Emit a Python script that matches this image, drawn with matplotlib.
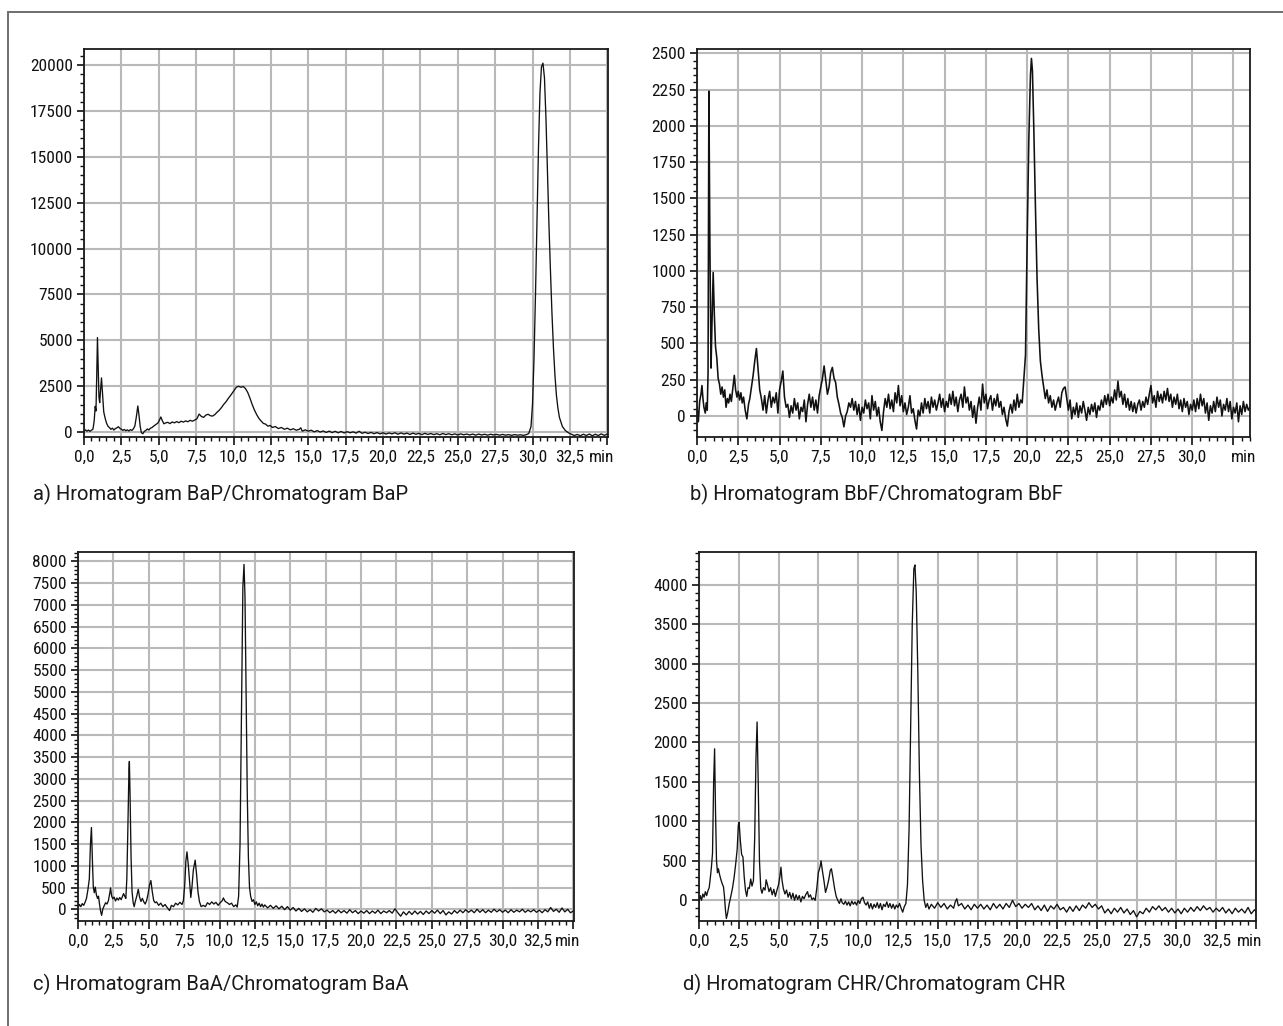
import numpy as np
import matplotlib.pyplot as plt
from matplotlib import font_manager as fm
from matplotlib.patches import Rectangle
from matplotlib.ticker import MultipleLocator, FuncFormatter

# (time in min, signal)
bap = [
    (0.0, 60), (0.1, 120), (0.2, 50), (0.3, 110), (0.4, 40), (0.5, 100), (0.6, 160), (0.68, 600),
    (0.75, 1400), (0.8, 1150), (0.85, 3000), (0.9, 5150), (0.95, 3600), (1.0, 1900), (1.05, 1600),
    (1.1, 2200), (1.17, 2950), (1.25, 2000), (1.32, 1100), (1.4, 800), (1.5, 500), (1.6, 320),
    (1.7, 240), (1.8, 150), (1.9, 210), (2.0, 110), (2.1, 190), (2.2, 230), (2.3, 290), (2.4, 200),
    (2.5, 160), (2.6, 90), (2.7, 140), (2.8, 70), (2.9, 120), (3.0, 60), (3.1, 130), (3.2, 90),
    (3.3, 170), (3.4, 320), (3.5, 820), (3.6, 1420), (3.68, 900), (3.76, 300), (3.84, -40),
    (3.94, -90), (4.04, 40), (4.14, 90), (4.24, 170), (4.34, 110), (4.44, 210), (4.54, 240),
    (4.64, 310), (4.74, 370), (4.84, 430), (4.94, 490), (5.04, 640), (5.14, 820), (5.24, 620),
    (5.34, 450), (5.44, 490), (5.6, 530), (5.75, 460), (5.9, 550), (6.05, 500), (6.2, 570),
    (6.35, 510), (6.5, 590), (6.65, 540), (6.8, 610), (6.95, 560), (7.1, 640), (7.25, 590),
    (7.4, 650), (7.55, 720), (7.7, 980), (7.85, 850), (8.0, 800), (8.15, 920), (8.3, 970),
    (8.45, 890), (8.6, 870), (8.75, 950), (8.9, 1080), (9.05, 1190), (9.2, 1340), (9.35, 1510),
    (9.5, 1650), (9.65, 1830), (9.8, 1990), (9.95, 2160), (10.1, 2340), (10.2, 2450), (10.35, 2490),
    (10.5, 2440), (10.65, 2480), (10.8, 2370), (10.95, 2160), (11.1, 1850), (11.25, 1500),
    (11.4, 1200), (11.55, 950), (11.7, 740), (11.85, 600), (12.0, 470), (12.15, 430), (12.3, 320),
    (12.45, 360), (12.6, 250), (12.8, 300), (13.0, 190), (13.2, 250), (13.4, 150), (13.6, 210),
    (13.8, 120), (14.0, 180), (14.2, 100), (14.4, 150), (14.5, 230), (14.6, 50), (14.8, 120),
    (15.0, 50), (15.2, 100), (15.4, 10), (15.6, 80), (15.8, 0), (16.0, 60), (16.2, -20), (16.4, 50),
    (16.6, -30), (16.8, 40), (17.0, -40), (17.2, 30), (17.4, -50), (17.6, 20), (17.8, -40),
    (18.0, 10), (18.2, -60), (18.4, 40), (18.6, -70), (18.8, -10), (19.0, -80), (19.2, -20),
    (19.4, -90), (19.6, -30), (19.8, -100), (20.0, -40), (20.2, -110), (20.4, -50), (20.6, -100),
    (20.8, -40), (21.0, -120), (21.2, -50), (21.4, -110), (21.6, -60), (21.8, -130), (22.0, -60),
    (22.2, -120), (22.4, -70), (22.6, -140), (22.8, -70), (23.0, -130), (23.2, -80), (23.4, -140),
    (23.6, -90), (23.8, -150), (24.0, -80), (24.2, -140), (24.4, -90), (24.6, -150), (24.8, -100),
    (25.0, -160), (25.2, -100), (25.4, -150), (25.6, -110), (25.8, -160), (26.0, -110),
    (26.2, -170), (26.4, -110), (26.6, -160), (26.8, -120), (27.0, -170), (27.2, -120),
    (27.4, -160), (27.6, -130), (27.8, -170), (28.0, -130), (28.2, -170), (28.4, -140),
    (28.6, -180), (28.8, -140), (29.0, -170), (29.2, -150), (29.4, -180), (29.6, -140),
    (29.75, -80), (29.9, 300), (30.0, 1500), (30.1, 4000), (30.2, 7500), (30.3, 11500),
    (30.4, 15500), (30.5, 18500), (30.6, 19900), (30.7, 20100), (30.8, 19300), (30.9, 17100),
    (31.0, 14100), (31.1, 11300), (31.2, 8800), (31.3, 6500), (31.4, 4600), (31.5, 3100),
    (31.6, 2000), (31.7, 1300), (31.8, 800), (32.0, 300), (32.2, 80), (32.4, -40), (32.6, -120),
    (32.8, -190), (33.0, -130), (33.2, -200), (33.4, -120), (33.6, -190), (33.8, -110),
    (34.0, -200), (34.2, -120), (34.4, -190), (34.6, -100), (34.8, -180), (35.0, -110),
]

bbf = [
    (0.0, 60), (0.08, -40), (0.16, 100), (0.24, 150), (0.3, 210), (0.36, 120), (0.42, 60),
    (0.5, 20), (0.56, 90), (0.62, 40), (0.67, 300), (0.72, 2240), (0.78, 1200), (0.85, 330),
    (0.9, 600), (0.98, 990), (1.05, 700), (1.12, 480), (1.2, 400), (1.28, 260), (1.36, 220),
    (1.44, 150), (1.52, 200), (1.6, 130), (1.68, 180), (1.76, 60), (1.84, 120), (1.92, 90),
    (2.0, 150), (2.08, 100), (2.18, 200), (2.26, 280), (2.34, 180), (2.42, 130), (2.5, 170),
    (2.58, 110), (2.66, 160), (2.74, 90), (2.82, 130), (2.92, 40), (3.02, -20), (3.12, 80),
    (3.2, 120), (3.3, 200), (3.4, 280), (3.5, 380), (3.6, 465), (3.7, 320), (3.8, 180), (3.9, 120),
    (4.0, 40), (4.1, 140), (4.2, 20), (4.3, 110), (4.4, 170), (4.5, 60), (4.6, 130), (4.7, 90),
    (4.8, 160), (4.9, 20), (5.0, 180), (5.1, 240), (5.2, 310), (5.3, 130), (5.4, 60), (5.5, 80),
    (5.6, -10), (5.7, 70), (5.8, 20), (5.9, 120), (6.0, 40), (6.1, 90), (6.2, -20), (6.3, 60),
    (6.4, 30), (6.5, 110), (6.6, -40), (6.7, 80), (6.8, 150), (6.9, 60), (7.0, 130), (7.1, 40),
    (7.2, 110), (7.3, 20), (7.4, 140), (7.5, 200), (7.6, 260), (7.7, 345), (7.8, 250), (7.9, 150),
    (8.0, 200), (8.1, 300), (8.2, 335), (8.3, 260), (8.4, 230), (8.5, 130), (8.6, 80), (8.7, 20),
    (8.8, -10), (8.9, -75), (9.0, 0), (9.1, 30), (9.2, 90), (9.3, 60), (9.4, 120), (9.5, 40),
    (9.6, 100), (9.7, 10), (9.8, 80), (9.9, -30), (10.0, 60), (10.1, 20), (10.2, 110), (10.3, 50),
    (10.4, 90), (10.5, -20), (10.6, 140), (10.7, 40), (10.8, 100), (10.9, 0), (11.0, 60),
    (11.1, -40), (11.2, -100), (11.3, 30), (11.4, 120), (11.5, 60), (11.6, 150), (11.7, 50),
    (11.8, 110), (11.9, 30), (12.0, 160), (12.1, 90), (12.2, 210), (12.3, 70), (12.4, 140),
    (12.5, 30), (12.6, 90), (12.7, 10), (12.8, 60), (12.9, 140), (13.0, 20), (13.1, 50),
    (13.2, -30), (13.3, -90), (13.4, 40), (13.5, 0), (13.6, 90), (13.7, 20), (13.8, 120),
    (13.9, 50), (14.0, 100), (14.1, 20), (14.2, 130), (14.3, 60), (14.4, 110), (14.5, 40),
    (14.6, 90), (14.7, 150), (14.8, 60), (14.9, 120), (15.0, 30), (15.1, 100), (15.2, 60),
    (15.3, 150), (15.4, 80), (15.5, 170), (15.6, 70), (15.7, 130), (15.8, 30), (15.9, 110),
    (16.0, 150), (16.1, 60), (16.2, 200), (16.3, 90), (16.4, 130), (16.5, 40), (16.6, 100),
    (16.7, -10), (16.8, 70), (16.9, -50), (17.0, 60), (17.1, 130), (17.2, 40), (17.3, 220),
    (17.4, 90), (17.5, 150), (17.6, 50), (17.7, 110), (17.8, 140), (17.9, 40), (18.0, 120),
    (18.1, 70), (18.2, 150), (18.3, 60), (18.4, 100), (18.5, 10), (18.6, 60), (18.7, -20),
    (18.8, -70), (18.9, 30), (19.0, 80), (19.1, 20), (19.2, 110), (19.3, 40), (19.4, 150),
    (19.5, 60), (19.6, 110), (19.7, 90), (19.8, 250), (19.9, 420), (20.0, 1200), (20.1, 1900),
    (20.2, 2350), (20.26, 2465), (20.32, 2380), (20.4, 2000), (20.5, 1450), (20.6, 950),
    (20.7, 600), (20.8, 380), (20.9, 280), (21.0, 200), (21.1, 120), (21.2, 180), (21.3, 90),
    (21.4, 140), (21.5, 60), (21.6, 110), (21.7, 40), (21.8, 90), (21.9, 130), (22.0, 60),
    (22.1, 160), (22.2, 190), (22.3, 200), (22.4, 120), (22.5, 40), (22.6, 110), (22.7, -20),
    (22.8, 60), (22.9, 10), (23.0, 90), (23.1, -10), (23.2, 70), (23.3, 20), (23.4, 100),
    (23.5, 40), (23.6, -30), (23.7, 60), (23.8, 10), (23.9, 80), (24.0, 30), (24.1, 90),
    (24.2, -10), (24.3, 70), (24.4, 40), (24.5, 110), (24.6, 60), (24.7, 140), (24.8, 80),
    (24.9, 150), (25.0, 70), (25.1, 130), (25.2, 90), (25.3, 180), (25.4, 110), (25.5, 240),
    (25.6, 130), (25.7, 170), (25.8, 80), (25.9, 150), (26.0, 60), (26.1, 120), (26.2, 40),
    (26.3, 100), (26.4, 30), (26.5, 90), (26.6, 20), (26.7, 80), (26.8, 110), (26.9, 40),
    (27.0, 100), (27.1, 60), (27.2, 130), (27.3, 80), (27.4, 150), (27.5, 210), (27.6, 90),
    (27.7, 140), (27.8, 60), (27.9, 170), (28.0, 100), (28.1, 150), (28.2, 90), (28.3, 170),
    (28.4, 110), (28.5, 190), (28.6, 100), (28.7, 150), (28.8, 60), (28.9, 130), (29.0, 80),
    (29.1, 150), (29.2, 50), (29.3, 110), (29.4, 30), (29.5, 120), (29.6, 60), (29.7, 100),
    (29.8, 10), (29.9, 80), (30.0, 40), (30.1, 110), (30.2, 30), (30.3, 120), (30.4, 50),
    (30.5, 150), (30.6, 70), (30.7, 120), (30.8, 20), (30.9, 90), (31.0, -30), (31.1, 70),
    (31.2, 20), (31.3, 100), (31.4, 30), (31.5, 130), (31.6, 60), (31.7, 110), (31.8, 0),
    (31.9, 80), (32.0, 40), (32.1, 120), (32.2, 30), (32.3, 100), (32.4, -20), (32.5, 60),
    (32.6, 20), (32.7, 90), (32.8, -40), (32.9, 70), (33.0, 10), (33.1, 100), (33.2, 30),
    (33.3, 80), (33.4, 40), (33.5, 60),
]

baa = [
    (0.0, 40), (0.1, 110), (0.2, 60), (0.3, 130), (0.4, 90), (0.5, 160), (0.6, 250), (0.7, 450),
    (0.8, 700), (0.88, 1500), (0.95, 1880), (1.02, 1100), (1.08, 520), (1.15, 380), (1.22, 510),
    (1.3, 330), (1.38, 250), (1.45, 300), (1.52, 120), (1.6, -50), (1.67, -140), (1.75, 0),
    (1.85, 80), (1.95, 150), (2.05, 120), (2.15, 200), (2.25, 380), (2.3, 490), (2.38, 300),
    (2.46, 240), (2.55, 280), (2.65, 190), (2.75, 260), (2.85, 210), (2.95, 270), (3.05, 220),
    (3.15, 300), (3.22, 360), (3.3, 300), (3.38, 250), (3.45, 700), (3.52, 1800), (3.6, 3200),
    (3.63, 3400), (3.68, 2600), (3.75, 1200), (3.82, 400), (3.9, 150), (3.97, 60), (4.05, 180),
    (4.15, 300), (4.26, 460), (4.35, 280), (4.45, 180), (4.55, 250), (4.65, 170), (4.75, 120),
    (4.85, 200), (4.95, 350), (5.05, 550), (5.15, 660), (5.25, 400), (5.35, 200), (5.45, 150),
    (5.55, 170), (5.7, 90), (5.85, 140), (6.0, 60), (6.15, 110), (6.3, 40), (6.47, -30),
    (6.6, 90), (6.75, 60), (6.9, 140), (7.05, 100), (7.2, 160), (7.35, 110), (7.45, 200),
    (7.55, 600), (7.62, 1100), (7.7, 1320), (7.8, 1000), (7.9, 550), (7.97, 270), (8.05, 500),
    (8.15, 900), (8.28, 1130), (8.38, 800), (8.48, 400), (8.58, 180), (8.7, 60), (8.85, 90),
    (9.0, 60), (9.15, 150), (9.3, 110), (9.45, 170), (9.6, 120), (9.75, 160), (9.9, 90),
    (10.05, 150), (10.2, 200), (10.27, 260), (10.4, 180), (10.55, 150), (10.7, 110), (10.85, 140),
    (11.0, 60), (11.15, 100), (11.25, 50), (11.35, 300), (11.45, 1500), (11.55, 4500),
    (11.65, 7400), (11.73, 7930), (11.8, 7200), (11.88, 5000), (11.96, 2700), (12.04, 1200),
    (12.12, 500), (12.2, 300), (12.3, 180), (12.4, 220), (12.5, 110), (12.6, 170), (12.7, 80),
    (12.8, 140), (12.9, 60), (13.0, 120), (13.1, 50), (13.2, 100), (13.4, 30), (13.6, 90),
    (13.8, 20), (14.0, 80), (14.2, 10), (14.4, 70), (14.6, -10), (14.8, 60), (15.0, -20),
    (15.2, 40), (15.4, -40), (15.6, 20), (15.8, -50), (16.0, 10), (16.2, -60), (16.4, -10),
    (16.6, -70), (16.8, 20), (17.0, -40), (17.2, 10), (17.4, -60), (17.6, -20), (17.8, -80),
    (18.0, -30), (18.2, -90), (18.4, -20), (18.6, -80), (18.8, -30), (19.0, -90), (19.2, -10),
    (19.4, -80), (19.6, -30), (19.8, -100), (20.0, -40), (20.2, -90), (20.4, -30), (20.6, -100),
    (20.8, -40), (21.0, -90), (21.2, -20), (21.4, -100), (21.6, -40), (21.8, -80), (22.0, -30),
    (22.2, -90), (22.4, 10), (22.6, -80), (22.8, -160), (23.0, -60), (23.2, -130), (23.4, -50),
    (23.6, -120), (23.8, -40), (24.0, -110), (24.2, -50), (24.4, -120), (24.6, -40), (24.8, -100),
    (25.0, -30), (25.2, -90), (25.4, -20), (25.6, -100), (25.8, -30), (26.0, -130), (26.2, -60),
    (26.4, -110), (26.6, -30), (26.8, -90), (27.0, -20), (27.2, -80), (27.4, -10), (27.6, -70),
    (27.8, -20), (28.0, -80), (28.2, 0), (28.4, -70), (28.6, -10), (28.8, -80), (29.0, -20),
    (29.2, -70), (29.4, 0), (29.6, -60), (29.8, -10), (30.0, -70), (30.2, -20), (30.4, -80),
    (30.6, -10), (30.8, -70), (31.0, -20), (31.2, -60), (31.4, 0), (31.6, -70), (31.8, -20),
    (32.0, -60), (32.2, -10), (32.4, -70), (32.6, -20), (32.8, -80), (33.0, -10), (33.2, -60),
    (33.4, 40), (33.6, -50), (33.8, 0), (34.0, -70), (34.2, 30), (34.4, -60), (34.6, 0),
    (34.8, -80), (35.0, -40),
]

chr_data = [
    (0.0, -20), (0.08, 60), (0.16, 0), (0.24, 80), (0.32, 40), (0.4, 110), (0.48, 60), (0.56, 120),
    (0.64, 160), (0.72, 300), (0.78, 420), (0.85, 600), (0.92, 1500), (0.98, 1920), (1.04, 1100),
    (1.1, 500), (1.16, 350), (1.22, 400), (1.3, 320), (1.38, 260), (1.46, 210), (1.54, 170),
    (1.6, 50), (1.66, -120), (1.72, -230), (1.8, -160), (1.9, -40), (2.0, 50), (2.1, 150),
    (2.2, 280), (2.3, 450), (2.4, 650), (2.47, 950), (2.52, 990), (2.6, 750), (2.68, 580),
    (2.76, 550), (2.84, 300), (2.92, 130), (3.0, 50), (3.08, 160), (3.16, 150), (3.25, 270),
    (3.33, 180), (3.42, 250), (3.5, 800), (3.58, 1800), (3.65, 2260), (3.72, 1500), (3.8, 500),
    (3.88, 150), (3.96, 90), (4.05, 160), (4.15, 130), (4.22, 260), (4.3, 200), (4.4, 110),
    (4.5, 160), (4.6, 70), (4.7, 140), (4.8, 50), (4.9, 130), (5.0, 200), (5.08, 300), (5.15, 420),
    (5.22, 250), (5.3, 150), (5.4, 80), (5.5, 130), (5.6, 40), (5.7, 100), (5.8, 20), (5.9, 90),
    (6.0, 0), (6.1, 70), (6.2, 10), (6.3, 60), (6.4, -20), (6.5, 50), (6.6, 20), (6.7, 70),
    (6.82, 110), (6.9, 40), (7.0, 70), (7.1, 10), (7.2, 30), (7.3, 0), (7.4, 150), (7.5, 350),
    (7.6, 420), (7.67, 500), (7.75, 380), (7.85, 250), (7.95, 100), (8.05, 170), (8.15, 260),
    (8.25, 380), (8.32, 400), (8.42, 280), (8.52, 150), (8.62, 50), (8.72, 0), (8.82, -40),
    (8.92, 20), (9.0, -30), (9.1, -50), (9.2, -10), (9.3, -60), (9.4, -20), (9.5, -70), (9.6, -10),
    (9.7, -50), (9.8, -20), (9.9, -60), (10.0, 0), (10.1, -40), (10.2, 20), (10.3, 40),
    (10.4, -30), (10.5, -60), (10.6, -20), (10.7, -100), (10.8, -40), (10.9, -110), (11.0, -50),
    (11.1, -90), (11.2, -30), (11.3, -100), (11.4, -40), (11.5, -120), (11.6, -50), (11.7, -80),
    (11.8, -20), (11.9, -90), (12.0, -40), (12.1, -100), (12.2, -50), (12.3, -110), (12.4, -60),
    (12.5, -90), (12.6, -40), (12.7, -100), (12.8, -150), (12.9, -80), (13.0, -40), (13.1, 200),
    (13.2, 900), (13.3, 2200), (13.4, 3500), (13.5, 4200), (13.57, 4250), (13.65, 3900),
    (13.75, 2900), (13.85, 1600), (13.95, 700), (14.05, 250), (14.15, 0), (14.25, -90),
    (14.35, -40), (14.45, -110), (14.6, -50), (14.8, -100), (15.0, -30), (15.2, -90), (15.4, -40),
    (15.6, -110), (15.8, -60), (16.0, -100), (16.1, -20), (16.2, 20), (16.3, -70), (16.5, -40),
    (16.7, -110), (16.9, -60), (17.1, -120), (17.3, -50), (17.5, -100), (17.7, -50), (17.9, -110),
    (18.1, -60), (18.3, -120), (18.5, -40), (18.7, -100), (18.9, -50), (19.1, -110), (19.3, -40),
    (19.5, -90), (19.7, 0), (19.9, -80), (20.1, -40), (20.3, -100), (20.5, -50), (20.7, -90),
    (20.9, -40), (21.1, -120), (21.3, -70), (21.5, -130), (21.7, -60), (21.9, -140), (22.1, -70),
    (22.3, -110), (22.5, -50), (22.7, -120), (22.9, -90), (23.1, -150), (23.3, -80), (23.5, -140),
    (23.7, -70), (23.9, -130), (24.1, -60), (24.3, -100), (24.5, -30), (24.7, -90), (24.9, -50),
    (25.1, -110), (25.3, -70), (25.5, -160), (25.7, -110), (25.9, -170), (26.1, -100),
    (26.3, -150), (26.5, -90), (26.7, -160), (26.9, -110), (27.1, -180), (27.3, -130),
    (27.5, -210), (27.7, -140), (27.9, -170), (28.1, -100), (28.3, -150), (28.5, -80),
    (28.7, -120), (28.9, -70), (29.1, -130), (29.3, -90), (29.5, -150), (29.7, -100),
    (29.9, -160), (30.1, -110), (30.3, -170), (30.5, -100), (30.7, -150), (30.9, -90),
    (31.1, -140), (31.3, -80), (31.5, -130), (31.7, -70), (31.9, -120), (32.1, -90), (32.3, -150),
    (32.5, -100), (32.7, -140), (32.9, -90), (33.1, -160), (33.3, -110), (33.5, -170),
    (33.7, -100), (33.9, -150), (34.1, -110), (34.3, -160), (34.5, -90), (34.7, -170),
    (34.9, -120), (35.0, -140),
]

titles = ["a) Hromatogram BaP/Chromatogram BaP",
          "b) Hromatogram BbF/Chromatogram BbF",
          "c) Hromatogram BaA/Chromatogram BaA",
          "d) Hromatogram CHR/Chromatogram CHR"]


# narrow face for the axis numbers, if one is installed
def pick_narrow():
    order = ['Liberation Sans Narrow', 'Roboto Condensed', 'DejaVu Sans', 'Noto Sans', 'Open Sans']
    found = []
    for f in fm.fontManager.ttflist:
        narrow = ('Narrow' in f.name or 'Condensed' in f.name
                  or str(f.stretch) in ('condensed', 'semi-condensed', 'extra-condensed'))
        if narrow and f.style == 'normal' and str(f.weight) in ('400', 'normal', 'regular', 'book'):
            rank = next((i for i, n in enumerate(order) if f.name.startswith(n)), 99)
            found.append((rank, f))
    if not found:
        return fm.FontProperties(family='Roboto', size=11)
    found.sort(key=lambda x: x[0])
    f = found[0][1]
    size = 11.5 if 'DejaVu' in f.name else 12.5
    return fm.FontProperties(fname=f.fname, size=size)


tick_font = pick_narrow()

W, H = 1283, 1026
fig = plt.figure(figsize=(W / 100, H / 100), dpi=100)

# outer frame, open on the right/bottom edge of the page
fig.add_artist(Rectangle((8 / W, -0.05), 1.2, 1 - 12 / H + 0.05, transform=fig.transFigure,
                         fill=False, ec='#6e6e6e', lw=1.4))

axes = []


def panel(box, data, ylim, ymaj, ymin_step, xmax, last_label, title, title_xy, lw=0.95):
    l, t, r, b = box
    ax = fig.add_axes([l / W, 1 - b / H, (r - l) / W, (b - t) / H])
    arr = np.array(data, dtype=float)
    ax.plot(arr[:, 0], arr[:, 1], color='#111111', lw=lw, zorder=3)
    ax.set_xlim(0, xmax)
    ax.set_ylim(*ylim)
    ax.xaxis.set_major_locator(MultipleLocator(2.5))
    ax.xaxis.set_minor_locator(MultipleLocator(0.5))
    ax.yaxis.set_major_locator(MultipleLocator(ymaj))
    ax.yaxis.set_minor_locator(MultipleLocator(ymin_step))
    ax.xaxis.set_major_formatter(FuncFormatter(
        lambda v, p: ('%.1f' % v).replace('.', ',') if v <= last_label + 1e-6 else ''))
    ax.yaxis.set_major_formatter(FuncFormatter(lambda v, p: '%d' % v if v >= -1e-6 else ''))
    ax.grid(True, which='major', color='#b9b9b9', lw=1.5, zorder=1)
    ax.tick_params(which='major', direction='out', length=6, width=1.2, colors='#111111', pad=3)
    ax.tick_params(axis='y', which='major', length=5)
    ax.tick_params(which='minor', direction='out', length=3, width=1.0, colors='#111111')
    for s in ax.spines.values():
        s.set_linewidth(1.3)
        s.set_color('#1a1a1a')
        s.set_zorder(4)
    ax.annotate('min', xy=(1, 0), xycoords='axes fraction', xytext=(-4.5, -9.5),
                textcoords='offset points', ha='center', va='top', color='#111111',
                fontproperties=tick_font)
    fig.text(title_xy[0] / W, 1 - title_xy[1] / H, title, fontsize=14.5, va='center',
             ha='left', color='#1a1a1a', family=['Roboto', 'DejaVu Sans'])
    axes.append(ax)


panel((84, 49, 608, 437), bap, (-270, 20870), 2500, 500, 35.05, 32.5, titles[0], (33, 494))
panel((697, 49, 1250, 437), bbf, (-145, 2530), 250, 50, 33.5, 30.0, titles[1], (690, 494), lw=1.15)
panel((78, 552, 574, 921), baa, (-270, 8215), 500, 100, 35.05, 32.5, titles[2], (33, 984))
panel((699, 552, 1256, 921), chr_data, (-262, 4414), 500, 100, 35.0, 32.5, titles[3], (683, 984))

fig.canvas.draw()
for ax in axes:
    for lab in ax.get_xticklabels() + ax.get_yticklabels():
        lab.set_fontproperties(tick_font)

fig.savefig('out.png', dpi=100)
